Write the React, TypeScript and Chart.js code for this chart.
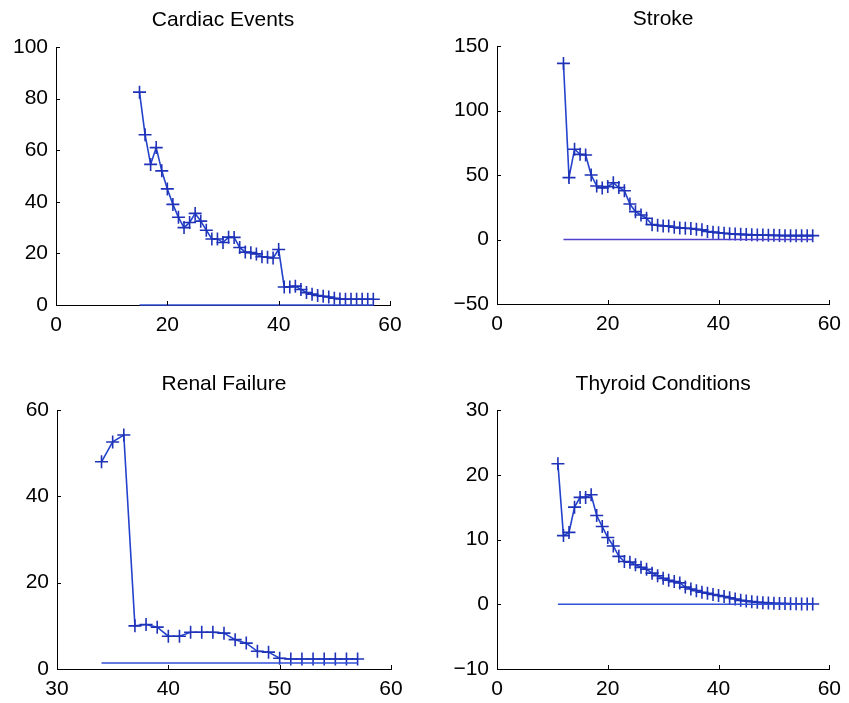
import { useEffect, useRef } from "react";
import { Chart, registerables } from "chart.js";
Chart.register(...registerables);

// ---- Data ----
const cardiacX = [15,16,17,18,19,20,21,22,23,24,25,26,27,28,29,30,31,32,33,34,35,36,37,38,39,40,41,42,43,44,45,46,47,48,49,50,51,52,53,54,55,56,57];
const cardiacY = [82.5,66,54.5,61,52,45,39,34,30,32,35.5,32.5,29,25.6,25.6,24.2,26.3,26.2,22.3,20.5,20.3,19.8,18.7,18.5,18.2,21.5,7,7,7.3,6,4.8,4.2,3.7,3.4,3.1,2.6,2.3,2.2,2.2,2.2,2.2,2.2,2.2];
const cardiacBaseX = [15, 57];
const cardiacBaseY = [0, 0];

const strokeX = [12,13,14,15,16,17,18,19,20,21,22,23,24,25,26,27,28,29,30,31,32,33,34,35,36,37,38,39,40,41,42,43,44,45,46,47,48,49,50,51,52,53,54,55,56,57];
const strokeY = [136.5,48,70,66,65.5,50,41.5,40,41,44,40.3,37.8,27.5,21.6,19,16.5,11.5,11,10.5,10.5,9.5,9,8.7,8.5,8,7.5,6.2,5.7,5.2,4.8,4.5,4.2,4,3.8,3.6,3.5,3.4,3.3,3.2,3.1,3,3,3,3,3,3];
const strokeBaseX = [12, 57];
const strokeBaseY = [0, 0];

const renalX = [34,35,36,37,38,39,40,41,42,43,44,45,46,47,48,49,50,51,52,53,54,55,56,57];
const renalY = [48,52.6,54.2,10,10.3,9.7,7.6,7.6,8.5,8.5,8.5,8.3,6.8,6,4.1,3.9,2.5,2.3,2.3,2.3,2.3,2.3,2.3,2.3];
const renalBaseX = [34, 57];
const renalBaseY = [1.4, 1.4];

const thyroidX = [11,12,13,14,15,16,17,18,19,20,21,22,23,24,25,26,27,28,29,30,31,32,33,34,35,36,37,38,39,40,41,42,43,44,45,46,47,48,49,50,51,52,53,54,55,56,57];
const thyroidY = [21.7,10.6,11.1,15,16.5,16.5,16.9,13.7,12,10.3,9,7.4,6.6,6.5,6.1,5.7,5.4,4.8,4.4,4,3.7,3.5,3.3,2.65,2.35,2.1,1.85,1.7,1.5,1.35,1.2,1.0,0.8,0.6,0.5,0.4,0.3,0.25,0.2,0.15,0.12,0.1,0.08,0.06,0.05,0.05,0.05];
const thyroidBaseX = [11, 57];
const thyroidBaseY = [0, 0];

const FONT = "'Liberation Sans', Arial, Helvetica, sans-serif";
const FONT_SIZE = 21;
const LINE_COLOR = "#2443cc";
const POINT_COLOR = "#1f33b8";

type PanelSpec = {
  title: string;
  xs: number[]; ys: number[];
  bx: number[]; by: number[];
  baseColor: string;
  xMin: number; xMax: number; xStep: number;
  yMin: number; yMax: number; yStep: number;
  left: number; top: number; width: number; height: number;
  yAxisW: number; padRight: number; padTop: number; padBottom: number;
  titleY: number;
};

const panels: PanelSpec[] = [
  { title: "Cardiac Events", xs: cardiacX, ys: cardiacY, bx: cardiacBaseX, by: cardiacBaseY, baseColor: "#3050d8",
    xMin: 0, xMax: 60, xStep: 20, yMin: 0, yMax: 100, yStep: 20,
    left: 0, top: 0, width: 424, height: 350, yAxisW: 56, padRight: 34, padTop: 47, padBottom: 15, titleY: 20.5 },
  { title: "Stroke", xs: strokeX, ys: strokeY, bx: strokeBaseX, by: strokeBaseY, baseColor: "#5040d0",
    xMin: 0, xMax: 60, xStep: 20, yMin: -50, yMax: 150, yStep: 50,
    left: 424, top: 0, width: 425, height: 350, yAxisW: 73, padRight: 16, padTop: 46, padBottom: 16, titleY: 19.5 },
  { title: "Renal Failure", xs: renalX, ys: renalY, bx: renalBaseX, by: renalBaseY, baseColor: "#3050d8",
    xMin: 30, xMax: 60, xStep: 10, yMin: 0, yMax: 60, yStep: 20,
    left: 0, top: 350, width: 424, height: 353, yAxisW: 57, padRight: 33, padTop: 60, padBottom: 4, titleY: 34 },
  { title: "Thyroid Conditions", xs: thyroidX, ys: thyroidY, bx: thyroidBaseX, by: thyroidBaseY, baseColor: "#3050d8",
    xMin: 0, xMax: 60, xStep: 20, yMin: -10, yMax: 30, yStep: 10,
    left: 424, top: 350, width: 425, height: 353, yAxisW: 73, padRight: 16, padTop: 60, padBottom: 4, titleY: 34 },
];

const fmt = (v: any) => {
  const n = Number(v);
  return n < 0 ? "\u2212" + String(-n) : String(n);
};

function Panel({ spec }: { spec: PanelSpec }) {
  const ref = useRef<HTMLCanvasElement | null>(null);
  useEffect(() => {
    if (!ref.current) return;
    const decor = {
      id: "decor",
      afterDraw(chart: any) {
        const ctx = chart.ctx;
        const ca = chart.chartArea;
        const xs = chart.scales.x;
        const ys = chart.scales.y;
        ctx.save();
        ctx.strokeStyle = "#000";
        ctx.lineWidth = 1;
        ctx.beginPath();
        xs.ticks.forEach((t: any) => {
          const px = Math.round(xs.getPixelForValue(t.value)) + 0.5;
          ctx.moveTo(px, ca.bottom);
          ctx.lineTo(px, ca.bottom - 4);
        });
        ys.ticks.forEach((t: any) => {
          const py = Math.round(ys.getPixelForValue(t.value)) + 0.5;
          ctx.moveTo(ca.left, py);
          ctx.lineTo(ca.left + 4, py);
        });
        ctx.stroke();
        ctx.fillStyle = "#000";
        ctx.font = `${FONT_SIZE}px ${FONT}`;
        ctx.textAlign = "center";
        ctx.textBaseline = "middle";
        ctx.fillText(spec.title, (ca.left + ca.right) / 2, spec.titleY);
        ctx.restore();
      },
    };
    const chart = new Chart(ref.current, {
      type: "scatter",
      data: {
        datasets: [
          {
            data: spec.bx.map((x, i) => ({ x, y: spec.by[i] })),
            showLine: true,
            borderColor: spec.baseColor,
            borderWidth: 1.6,
            pointRadius: 0,
            clip: false as any,
          },
          {
            data: spec.xs.map((x, i) => ({ x, y: spec.ys[i] })),
            showLine: true,
            borderColor: LINE_COLOR,
            borderWidth: 1.6,
            pointStyle: "cross",
            pointRadius: 6.5,
            pointBorderWidth: 1.6,
            pointBorderColor: POINT_COLOR,
            pointBackgroundColor: POINT_COLOR,
            clip: false as any,
          },
        ],
      },
      options: {
        responsive: false,
        animation: false,
        devicePixelRatio: 1,
        layout: { padding: { left: 0, right: spec.padRight, top: spec.padTop, bottom: spec.padBottom } },
        plugins: { legend: { display: false }, tooltip: { enabled: false }, title: { display: false } },
        events: [],
        scales: {
          x: {
            type: "linear",
            min: spec.xMin,
            max: spec.xMax,
            ticks: { stepSize: spec.xStep, color: "#000", font: { family: FONT, size: FONT_SIZE }, padding: 8, maxRotation: 0, autoSkip: false, callback: fmt },
            grid: { display: true, drawOnChartArea: false, drawTicks: false },
            border: { display: true, color: "#000", width: 1 },
            afterFit: (s: any) => { s.height = 30; },
          },
          y: {
            type: "linear",
            min: spec.yMin,
            max: spec.yMax,
            ticks: { stepSize: spec.yStep, color: "#000", font: { family: FONT, size: FONT_SIZE }, padding: 8, autoSkip: false, callback: fmt },
            grid: { display: true, drawOnChartArea: false, drawTicks: false },
            border: { display: true, color: "#000", width: 1 },
            afterFit: (s: any) => { s.width = spec.yAxisW; },
          },
        },
      },
      plugins: [decor],
    });
    return () => chart.destroy();
  }, [spec]);
  return (
    <canvas
      ref={ref}
      width={spec.width}
      height={spec.height}
      style={{ position: "absolute", left: spec.left, top: spec.top, width: spec.width, height: spec.height }}
    />
  );
}

export default function App() {
  return (
    <div style={{ position: "fixed", left: 0, top: 0, width: 849, height: 703, background: "#fff" }}>
      {panels.map((p) => (
        <Panel key={p.title} spec={p} />
      ))}
    </div>
  );
}
